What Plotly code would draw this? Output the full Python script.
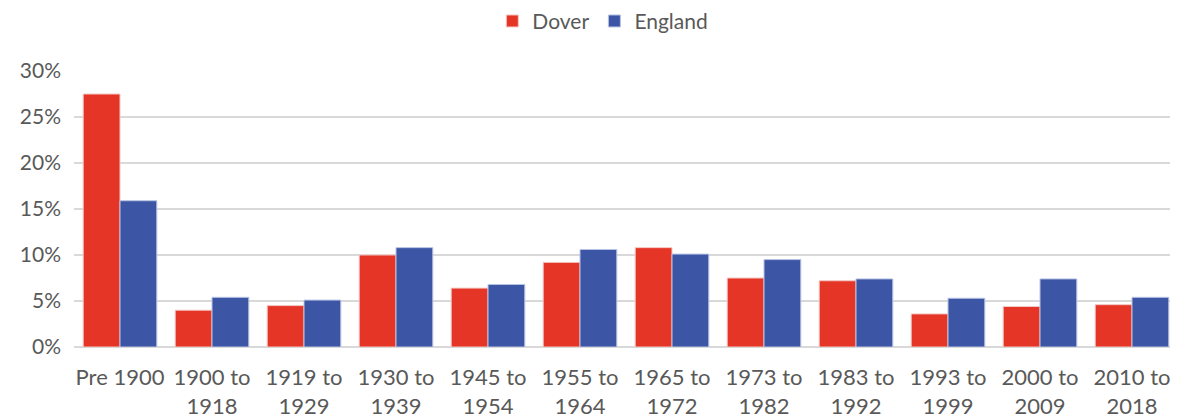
import plotly.graph_objects as go

categories = ["Pre 1900", "1900 to<br>1918", "1919 to<br>1929", "1930 to<br>1939", "1945 to<br>1954",
              "1955 to<br>1964", "1965 to<br>1972", "1973 to<br>1982", "1983 to<br>1992", "1993 to<br>1999",
              "2000 to<br>2009", "2010 to<br>2018"]
dover = [0.275, 0.040, 0.045, 0.100, 0.064, 0.092, 0.108, 0.075, 0.072, 0.036, 0.044, 0.046]
england = [0.159, 0.054, 0.051, 0.108, 0.068, 0.106, 0.101, 0.095, 0.074, 0.053, 0.074, 0.054]
y_ticks = [0, 0.05, 0.10, 0.15, 0.20, 0.25, 0.30]

FONT = "Lato"
GREY = "#595959"

fig = go.Figure()
fig.add_trace(go.Bar(name="Dover", x=categories, y=dover, marker_color="#E43526",
                     marker_line=dict(color="#F4C9C4", width=1)))
fig.add_trace(go.Bar(name="England", x=categories, y=england, marker_color="#3C56A5",
                     marker_line=dict(color="#B9C4E4", width=1)))

fig.update_layout(
    width=1170, height=411,
    margin=dict(l=66, r=0, t=63, b=72, autoexpand=False),
    paper_bgcolor="white", plot_bgcolor="white",
    barmode="group", bargap=0.2, bargroupgap=0,
    font=dict(family=FONT, size=21, color=GREY),
    legend=dict(orientation="h", x=0.479, xanchor="center", y=1.18, yanchor="middle",
                font=dict(family=FONT, size=21, color=GREY),
                traceorder="normal"),
    showlegend=True,
)
fig.update_yaxes(range=[0, 0.30], tickvals=y_ticks, tickformat=".0%",
                 showgrid=True, gridcolor="#D9D9D9", gridwidth=1.5,
                 zeroline=True, zerolinecolor="#D9D9D9", zerolinewidth=1.5,
                 showline=False, ticks="", ticklabelstandoff=12, automargin=False,
                 tickfont=dict(family=FONT, size=21, color=GREY))
fig.update_xaxes(showline=False, ticks="", tickangle=0, automargin=False,
                 ticklabelstandoff=15,
                 tickfont=dict(family=FONT, size=22, color=GREY))

fig.write_html("out.html")
